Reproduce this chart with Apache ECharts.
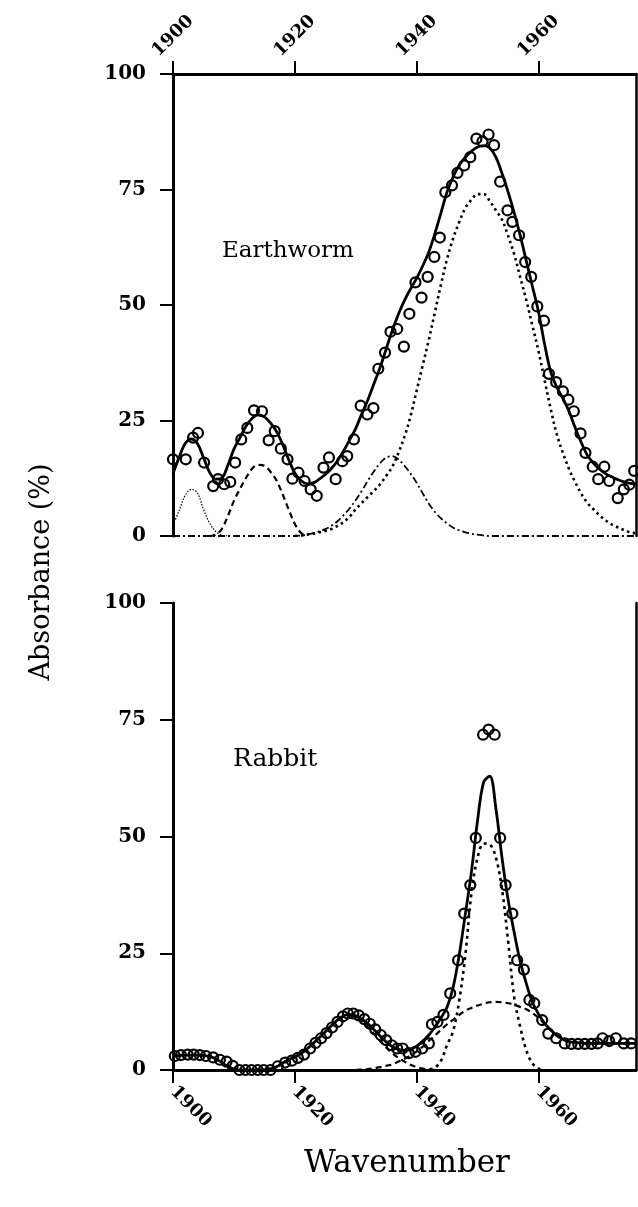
<!DOCTYPE html>
<html>
<head>
<meta charset="utf-8">
<script src="https://cdn.jsdelivr.net/npm/echarts@6/dist/echarts.min.js"></script>
<style>
html,body{margin:0;padding:0;background:#ffffff;}
#chart{width:638px;height:1207px;}
</style>
</head>
<body>
<div id="chart"></div>
<script>
// ---------- shared axes ----------
const wavenumbers = [
  1900,1901,1902,1903,1904,1905,1906,1907,1908,1909,
  1910,1911,1912,1913,1914,1915,1916,1917,1918,1919,
  1920,1921,1922,1923,1924,1925,1926,1927,1928,1929,
  1930,1931,1932,1933,1934,1935,1936,1937,1938,1939,
  1940,1941,1942,1943,1944,1945,1946,1947,1948,1949,
  1950,1951,1952,1953,1954,1955,1956,1957,1958,1959,
  1960,1961,1962,1963,1964,1965,1966,1967,1968,1969,
  1970,1971,1972,1973,1974,1975,1976];
const xTickLabels = [1900,1920,1940,1960];
const yTickLabels = [0,25,50,75,100];
const panelNames = ['Earthworm','Rabbit'];

// ---------- Earthworm ----------
const earthwormPoints = [
  [1900.0,16.6],[1902.1,16.6],[1903.3,21.3],[1904.1,22.3],[1905.1,15.9],[1906.6,10.8],
  [1907.4,12.3],[1908.4,11.2],[1909.4,11.7],[1910.2,15.9],[1911.2,20.9],[1912.2,23.4],
  [1913.3,27.2],[1914.6,27.0],[1915.7,20.7],[1916.7,22.7],[1917.7,18.9],[1918.8,16.6],
  [1919.6,12.4],[1920.6,13.7],[1921.6,11.9],[1922.6,10.1],[1923.6,8.7],[1924.7,14.8],
  [1925.6,17.0],[1926.7,12.3],[1927.8,16.2],[1928.6,17.3],[1929.7,20.9],[1930.8,28.2],
  [1931.9,26.3],[1932.9,27.7],[1933.7,36.2],[1934.8,39.7],[1935.7,44.2],[1936.8,44.8],
  [1937.9,41.0],[1938.8,48.1],[1939.8,54.9],[1940.8,51.6],[1941.8,56.1],[1942.9,60.4],
  [1943.8,64.6],[1944.7,74.4],[1945.8,75.9],[1946.7,78.6],[1947.8,80.2],[1948.8,82.0],
  [1949.8,86.0],[1950.8,85.4],[1951.8,86.9],[1952.7,84.6],[1953.7,76.7],[1954.9,70.5],
  [1955.7,68.0],[1956.8,65.1],[1957.8,59.3],[1958.8,56.1],[1959.8,49.7],[1960.9,46.6],
  [1961.7,35.1],[1962.9,33.3],[1964.0,31.3],[1964.9,29.5],[1965.8,27.0],[1966.9,22.2],
  [1967.7,18.0],[1968.9,15.0],[1969.8,12.3],[1970.8,15.0],[1971.6,11.9],[1973.0,8.2],
  [1974.0,10.1],[1974.9,11.1],[1975.7,14.1]];

const earthwormFit = [
  13.5,17,20,21,20,17,13.8,12.3,12.5,15.3,
  18.8,21.3,23.8,25.5,26.2,25.8,24.5,22.6,19.8,16.5,
  13.6,12,11.3,11.5,12.3,13.3,14.6,16.3,18.4,20.8,
  23.3,26.5,29.5,33,36.5,40.5,44.5,48,51,53.5,
  55.8,58.5,61.5,65.5,70,74.5,77.8,80.3,82,83.3,
  84.2,84.5,84,82,78.5,74.5,70,65,59.5,54,
  48.5,41.5,35.5,32.2,29.8,27,23.5,20.3,17.5,15.8,
  14.5,13.5,12.8,12.2,11.7,11.4,11.3];

const earthwormBand1936 = [
  0,0,0,0,0,0,0,0,0,0,
  0,0,0,0,0,0,0,0,0,0,
  0,0.1,0.3,0.6,1,1.5,2.2,3.2,4.5,6,
  7.8,9.8,12,14,15.8,17,17.3,16.6,15.2,13.5,
  11.5,9.2,7,5.2,3.8,2.7,1.8,1.2,0.8,0.5,
  0.3,0.1,0,0,0,0,0,0,0,0,
  0,0,0,0,0,0,0,0,0,0,
  0,0,0,0,0,0,0];

const earthwormBand1903 = [
  [1900,2.4],[1901,5.5],[1902,8.8],[1903,10.1],[1904,9.3],[1905,5.8],[1906,2.8],[1907,1.0],[1908,0.2],[1909,0]];

const earthwormBand1914 = [
  [1906,0],[1907,0.3],[1908,1.5],[1909,4.3],[1910,7.6],[1911,10.2],[1912,12.6],[1913,14.6],
  [1914,15.4],[1915,15.2],[1916,13.9],[1917,12.0],[1918,9.0],[1919,5.7],[1920,2.6],[1921,0.7],[1922,0]];

const earthwormBand1950 = [
  [1920,0],[1921,0.1],[1922,0.3],[1923,0.5],[1924,0.8],[1925,1.1],[1926,1.5],[1927,2.2],[1928,3.0],
  [1929,4.2],[1930,5.8],[1931,7.2],[1932,8.5],[1933,9.8],[1934,11.2],[1935,13.0],[1936,15.0],
  [1937,18.0],[1938,21.5],[1939,26.0],[1940,31.5],[1941,37.0],[1942,42.5],[1943,48.5],[1944,54.5],
  [1945,60.0],[1946,64.5],[1947,68.0],[1948,71.0],[1949,72.8],[1950,74.0],[1951,74.0],[1952,72.5],
  [1953,70.5],[1954,68.5],[1955,65.0],[1956,61.0],[1957,56.0],[1958,51.0],[1959,45.5],[1960,40.0],
  [1961,33.7],[1962,27.5],[1963,22.0],[1964,18.0],[1965,14.5],[1966,11.7],[1967,9.2],[1968,7.2],
  [1969,5.8],[1970,4.5],[1971,3.4],[1972,2.5],[1973,1.9],[1974,1.3],[1975,0.8],[1976,0.6]];

// ---------- Rabbit ----------
const rabbitPoints = [
  [1900.3,3.0],[1901.3,3.2],[1902.4,3.3],[1903.4,3.3],[1904.4,3.2],[1905.4,3.0],[1906.6,2.7],
  [1907.7,2.2],[1908.8,1.8],[1909.8,0.9],[1910.9,0],[1911.9,0],[1912.9,0],[1913.9,0],[1914.9,0],
  [1916.0,0],[1917.2,0.8],[1918.4,1.6],[1919.5,2.0],[1920.5,2.6],[1921.5,3.3],[1922.5,4.6],
  [1923.4,5.8],[1924.3,6.8],[1925.2,7.9],[1926.1,9.1],[1927.0,10.3],[1927.9,11.5],[1928.7,12.1],
  [1929.6,12.1],[1930.5,11.7],[1931.4,10.9],[1932.3,9.9],[1933.2,8.7],[1934.1,7.5],[1935.0,6.4],
  [1935.9,5.3],[1936.8,4.6],[1937.7,4.6],[1938.7,3.6],[1939.8,3.9],[1940.9,4.6],[1942.0,5.7],
  [1942.5,9.8],[1943.4,10.3],[1944.4,11.8],[1945.5,16.4],[1946.8,23.5],[1947.8,33.5],[1948.8,39.6],
  [1949.7,49.7],[1950.9,71.8],[1951.8,72.9],[1952.8,71.8],[1953.7,49.7],[1954.6,39.6],[1955.7,33.5],
  [1956.5,23.5],[1957.6,21.5],[1958.5,15.0],[1959.3,14.3],[1960.6,10.7],[1961.6,7.8],[1962.9,6.8],
  [1964.3,5.7],[1965.4,5.6],[1966.5,5.6],[1967.6,5.6],[1968.7,5.6],[1969.7,5.7],[1970.5,6.8],
  [1971.6,6.2],[1972.7,6.8],[1974.0,5.7],[1975.2,5.7]];

const rabbitFit = [
  3,3.1,3.2,3.2,3.2,3.1,2.9,2.4,1.6,0.8,
  0.2,0,0,0,0,0,0.2,0.7,1.5,2.2,
  2.8,3.5,4.5,5.7,6.9,8.2,9.5,10.7,11.6,11.9,
  11.6,10.9,9.9,8.6,7.3,6,5,4.4,4.2,4.4,
  5.1,6.2,7.5,9.2,11.2,13.5,17.8,24.8,33.5,42.6,
  53.5,61.7,62.9,56,45.5,36.5,29.5,23.2,18.5,14.5,
  12,10,8.6,7.4,6.6,6.1,5.9,5.8,5.7,5.7,
  5.7,5.7,5.7,5.7,5.7,5.7,5.7];

const rabbitBand1929 = [
  [1912,0],[1913,0],[1914,0.05],[1915,0.1],[1916,0.3],[1917,0.7],[1918,1.3],[1919,2.0],[1920,2.8],
  [1921,3.6],[1922,4.6],[1923,5.7],[1924,6.9],[1925,8.2],[1926,9.5],[1927,10.6],[1928,11.4],
  [1929,11.7],[1930,11.3],[1931,10.4],[1932,9.2],[1933,7.7],[1934,6.2],[1935,4.8],[1936,3.6],
  [1937,2.6],[1938,1.8],[1939,1.1],[1940,0.6],[1941,0.3],[1942,0.1],[1943,0]];

const rabbitBand1953 = [
  [1930,0],[1931,0.1],[1932,0.2],[1933,0.4],[1934,0.6],[1935,0.9],[1936,1.2],[1937,1.8],[1938,2.4],
  [1939,3.1],[1940,4.0],[1941,5.0],[1942,6.2],[1943,7.4],[1944,8.6],[1945,9.8],[1946,10.8],
  [1947,11.8],[1948,12.7],[1949,13.3],[1950,13.8],[1951,14.2],[1952,14.5],[1953,14.6],[1954,14.5],
  [1955,14.3],[1956,14.0],[1957,13.5],[1958,13.0],[1959,12.2],[1960,11.2],[1961,9.8],[1962,8.5],
  [1963,7.3],[1964,6.5],[1965,6.1],[1966,5.9],[1967,5.8],[1968,5.7],[1969,5.7],[1970,5.7],
  [1971,5.7],[1972,5.7],[1973,5.7],[1974,5.7],[1975,5.7],[1976,5.7]];

const rabbitBand1951 = [
  [1941,0],[1942,0.1],[1943,0.5],[1944,2.0],[1945,5.4],[1946,8.4],[1947,15.0],[1948,24.7],
  [1949,38.0],[1950,45.5],[1951,48.5],[1952,48.3],[1953,45.5],[1954,38.8],[1955,27.7],
  [1956,15.6],[1957,9.2],[1958,4.2],[1959,1.4],[1960,0.3],[1961,0]];

// ---------- helpers ----------
const pair = (ys) => wavenumbers.map((w, i) => [w, ys[i]]);
const SERIF = '"DejaVu Serif", "Liberation Serif", serif';
const BLACK = '#000000';

function xAxisFor(grid, pos, rot, align, margin) {
  return {
    type: 'value', gridIndex: grid, position: pos,
    min: 1900, max: 1976, interval: 20,
    axisLine: { show: true, onZero: false, lineStyle: { color: BLACK, width: 3 } },
    axisTick: { show: true, length: 13, lineStyle: { color: BLACK, width: 2 }, customValues: xTickLabels },
    axisLabel: {
      show: true, rotate: rot, align: align, verticalAlign: 'middle', margin: margin,
      customValues: xTickLabels,
      formatter: (v) => String(v),
      fontFamily: SERIF, fontWeight: 'bold', fontSize: 18, color: BLACK
    },
    splitLine: { show: false }
  };
}
function yAxisLeft(grid) {
  return {
    type: 'value', gridIndex: grid, position: 'left',
    min: 0, max: 100, interval: 25,
    axisLine: { show: true, onZero: false, lineStyle: { color: BLACK, width: 3 } },
    axisTick: { show: true, length: 13, lineStyle: { color: BLACK, width: 2 } },
    axisLabel: { show: true, margin: 27, fontFamily: SERIF, fontWeight: 'bold', fontSize: 20, color: BLACK },
    splitLine: { show: false }
  };
}
function yAxisRight(grid) {
  return {
    type: 'value', gridIndex: grid, position: 'right',
    min: 0, max: 100, interval: 25,
    axisLine: { show: true, onZero: false, lineStyle: { color: BLACK, width: 2.5 } },
    axisTick: { show: false }, axisLabel: { show: false }, splitLine: { show: false }
  };
}
function curve(name, data, xi, yi, width, type, z) {
  return {
    name, type: 'line', data, xAxisIndex: xi, yAxisIndex: yi,
    showSymbol: false, smooth: 0.35, silent: true, z: z || 2,
    lineStyle: { color: BLACK, width: width, type: type, cap: 'butt' }
  };
}
function dots(name, data, xi, yi) {
  return {
    name, type: 'scatter', data, xAxisIndex: xi, yAxisIndex: yi,
    symbol: 'circle', symbolSize: 10, silent: true, z: 5,
    itemStyle: { color: 'rgba(255,255,255,0)', borderColor: BLACK, borderWidth: 2.2, opacity: 1 }
  };
}

const chart = echarts.init(document.getElementById('chart'), null, { renderer: 'canvas' });
chart.setOption({
  animation: false,
  backgroundColor: '#ffffff',
  grid: [
    { left: 173, top: 74, width: 463, height: 462 },
    { left: 173, top: 603, width: 463, height: 467 }
  ],
  xAxis: [ xAxisFor(0, 'top', -45, 'center', 38), xAxisFor(1, 'bottom', -45, 'left', 19) ],
  yAxis: [ yAxisLeft(0), yAxisRight(0), yAxisLeft(1), yAxisRight(1) ],
  graphic: [
    { type: 'text', x: 42, y: 572, rotation: Math.PI / 2,
      style: { text: 'Absorbance (%)', font: '27px ' + SERIF, fill: BLACK, align: 'center', verticalAlign: 'middle' } },
    { type: 'text', x: 407, y: 1164,
      style: { text: 'Wavenumber', font: '31px ' + SERIF, fill: BLACK, align: 'center', verticalAlign: 'middle' } },
    { type: 'text', x: 222, y: 251,
      style: { text: panelNames[0], font: '23px ' + SERIF, fill: BLACK, align: 'left', verticalAlign: 'middle' } },
    { type: 'text', x: 233, y: 759,
      style: { text: panelNames[1], font: '25px ' + SERIF, fill: BLACK, align: 'left', verticalAlign: 'middle' } }
  ],
  series: [
    curve('Earthworm band 1936', pair(earthwormBand1936), 0, 0, 1.8, [7, 3, 2, 3]),
    curve('Earthworm band 1903', earthwormBand1903, 0, 0, 1.2, [1.5, 1.5]),
    curve('Earthworm band 1914', earthwormBand1914, 0, 0, 2.2, [6, 4]),
    curve('Earthworm band 1950', earthwormBand1950, 0, 0, 2.6, [2.5, 3.5]),
    curve('Earthworm fit', pair(earthwormFit), 0, 0, 2.8, 'solid', 3),
    dots('Earthworm data', earthwormPoints, 0, 0),

    curve('Rabbit band 1929', rabbitBand1929, 1, 2, 2.2, [6, 4]),
    curve('Rabbit band 1953', rabbitBand1953, 1, 2, 2.2, [6, 4]),
    curve('Rabbit band 1951', rabbitBand1951, 1, 2, 2.6, [3, 4]),
    curve('Rabbit fit', pair(rabbitFit), 1, 2, 2.8, 'solid', 3),
    dots('Rabbit data', rabbitPoints, 1, 2)
  ]
});
</script>
</body>
</html>
